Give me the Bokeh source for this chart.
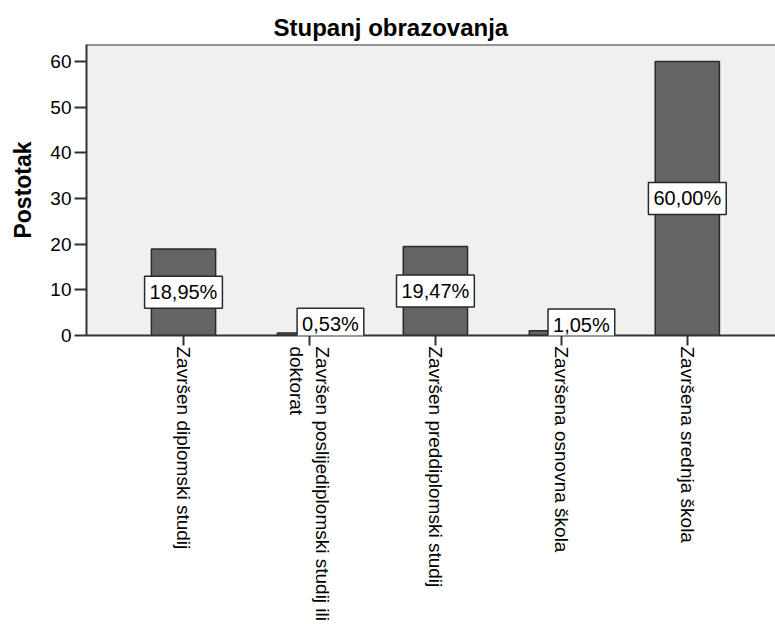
from bokeh.plotting import figure
from bokeh.models import Range1d, FixedTicker, Span, ColumnDataSource, Title, Label
from bokeh.embed import file_html
from bokeh.resources import INLINE

# ---- data ----
categories = [
    "Završen diplomski studij",
    "Završen poslijediplomski studij ili\ndoktorat",
    "Završen preddiplomski studij",
    "Završena osnovna škola",
    "Završena srednja škola",
]
percentages = [18.95, 0.53, 19.47, 1.05, 60.00]
percent_labels = ["18,95%", "0,53%", "19,47%", "1,05%", "60,00%"]
y_ticks = [0, 10, 20, 30, 40, 50, 60]

# label nudges (pixels) for the small bars, as in the reference
label_dx = [0, 21, 0, 20, 0]
label_dy = [0, 10, 0, 8, 0]

FONT = "Liberation Sans"
idx = list(range(len(categories)))

src = ColumnDataSource(dict(x=idx, top=percentages))

p = figure(
    width=775, height=624,
    x_range=Range1d(-0.77, 4.70), y_range=Range1d(0, 63.7),
    output_backend="svg", toolbar_location=None,
    min_border=0, min_border_left=86, min_border_right=0,
    min_border_top=44, min_border_bottom=287,
    background_fill_color="#f0f0f0", border_fill_color="white",
    outline_line_color=None,
)
p.title = Title(text="Stupanj obrazovanja", align="left", offset=187,
                text_font=FONT, text_font_size="24px", text_font_style="bold",
                text_color="#000000", standoff=8)

p.grid.visible = False

p.vbar(x="x", top="top", bottom=0, width=0.51, source=src,
       fill_color="#646464", line_color="#2a2a2a", line_width=1.5)

for xi, v, lab, dx, dy in zip(idx, percentages, percent_labels, label_dx, label_dy):
    p.add_layout(Label(x=xi, y=v / 2, text=lab, x_offset=dx, y_offset=dy,
                       text_align="center", text_baseline="middle",
                       text_font=FONT, text_font_size="20px", text_color="#000000",
                       background_fill_color="white", border_line_color="#2a2a2a",
                       border_line_width=1.5, padding=5))

p.add_layout(Span(location=63.7, dimension="width", line_color="#333333", line_width=2))

# y axis
ya = p.yaxis[0]
ya.ticker = FixedTicker(ticks=y_ticks)
ya.axis_label = "Postotak"
ya.axis_label_text_font = FONT
ya.axis_label_text_font_size = "23px"
ya.axis_label_text_font_style = "bold"
ya.axis_label_text_color = "#000000"
ya.axis_label_standoff = 11
ya.major_label_text_font = FONT
ya.major_label_text_font_size = "19px"
ya.major_label_text_color = "#000000"
ya.major_label_standoff = 3
ya.major_tick_out = 12
ya.major_tick_in = 0
ya.minor_tick_line_color = None
ya.axis_line_width = 2
ya.axis_line_color = "#333333"
ya.major_tick_line_width = 2
ya.major_tick_line_color = "#333333"

# x axis
xa = p.xaxis[0]
xa.ticker = FixedTicker(ticks=idx)
xa.major_label_overrides = {i: c for i, c in zip(idx, categories)}
xa.major_label_orientation = -1.5707963
xa.major_label_text_font = FONT
xa.major_label_text_font_size = "19px"
xa.major_label_text_color = "#000000"
xa.major_label_standoff = 1
xa.major_tick_out = 10
xa.major_tick_in = 0
xa.minor_tick_line_color = None
xa.axis_line_width = 2
xa.axis_line_color = "#333333"
xa.major_tick_line_width = 2
xa.major_tick_line_color = "#333333"

open("out.html", "w").write(file_html(p, INLINE))
